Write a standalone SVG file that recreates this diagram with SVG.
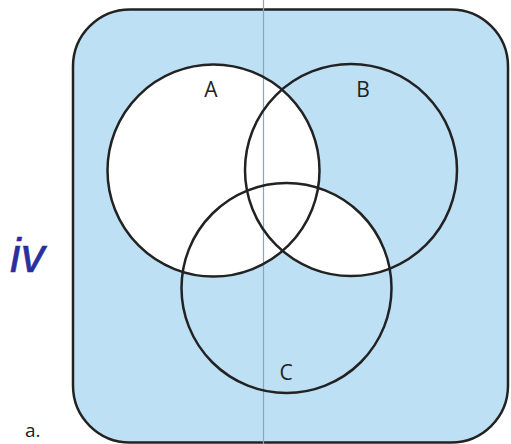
<svg xmlns="http://www.w3.org/2000/svg" width="511" height="444" viewBox="0 0 511 444">
<style>
.outline{fill:none;stroke:#222;stroke-width:2.5}
.lbl{font-family:"Open Sans","Liberation Sans",sans-serif;font-size:21px;fill:#222;text-anchor:middle}
</style>
<defs>
<clipPath id="clipB"><circle cx="351" cy="170" r="106"/></clipPath>
</defs>
<rect x="0" y="0" width="511" height="444" fill="#ffffff"/>
<g id="universe">
<rect x="73" y="9.5" width="435" height="433" rx="57" ry="57" fill="#bde0f5" stroke="#222" stroke-width="2.5"/>
</g>
<g id="shading">
<circle cx="213.5" cy="170.5" r="106" fill="#ffffff"/>
<circle cx="286.5" cy="288" r="105" fill="#ffffff" clip-path="url(#clipB)"/>
</g>
<g id="connectors">
<line x1="263.5" y1="0" x2="263.5" y2="444" stroke="#8aa6bb" stroke-width="1.2"/>
</g>
<g id="setA">
<circle class="outline" cx="213.5" cy="170.5" r="106"/>
<text class="lbl" x="211" y="97">A</text>
</g>
<g id="setB">
<circle class="outline" cx="351" cy="170" r="106"/>
<text class="lbl" x="363" y="97">B</text>
</g>
<g id="setC">
<circle class="outline" cx="286.5" cy="288" r="105"/>
<text class="lbl" x="286" y="380">C</text>
</g>
<g id="annotations">
<text x="10" y="272" font-family="Liberation Sans, sans-serif" font-size="48" font-style="italic" fill="#2b2f9e" stroke="#2b2f9e" stroke-width="0.6">iv</text>
<text x="25" y="437" font-family="Open Sans, Liberation Sans, sans-serif" font-size="19" fill="#222">a.</text>
</g>
</svg>
